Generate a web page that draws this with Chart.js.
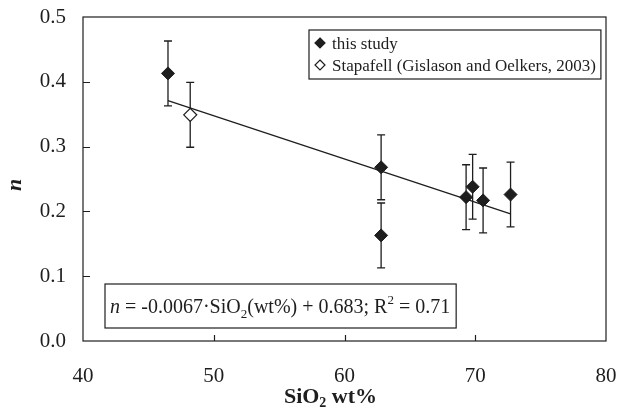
<!DOCTYPE html>
<html>
<head>
<meta charset="utf-8">
<script src="https://cdn.jsdelivr.net/npm/chart.js@4.4.1/dist/chart.umd.min.js"></script>
<style>
  body { margin: 0; background: #fff; }
  #wrap { width: 618px; height: 408px; }
</style>
</head>
<body>
<div id="wrap"><canvas id="nChart" width="618" height="408"></canvas></div>
<script>
// values
const studySiO2 = [46.5, 62.8, 62.8, 69.3, 69.8, 70.6, 72.7];
const studyN = [0.413, 0.268, 0.163, 0.222, 0.238, 0.217, 0.226];
const studyErr = [0.05, 0.05, 0.05, 0.05, 0.05, 0.05, 0.05];
const stapafellSiO2 = [48.2];
const stapafellN = [0.349];
const stapafellErr = [0.05];
const fitSiO2 = [46.5, 72.7];
const fitN = [0.371, 0.196];

const xTickValues = [40, 50, 60, 70, 80];
const yTickValues = [0.0, 0.1, 0.2, 0.3, 0.4, 0.5];
const legendLabels = ['this study', 'Stapafell (Gislason and Oelkers, 2003)'];
const xTitle = ['SiO', '2', ' wt%'];
const yTitle = 'n';
const equation = [
  { t: 'n', style: 'italic' },
  { t: ' = -0.0067\u00b7SiO' },
  { t: '2', sub: true },
  { t: '(wt%) + 0.683; R' },
  { t: '2', sup: true },
  { t: ' = 0.71' },
];

const serif = "'Liberation Serif', 'Times New Roman', serif";
const ink = '#1e1e1e';

function toPoints(xs, ys) {
  return xs.map((x, i) => ({ x: x, y: ys[i] }));
}

function diamond(ctx, x, y, r, filled) {
  ctx.beginPath();
  ctx.moveTo(x, y - r);
  ctx.lineTo(x + r, y);
  ctx.lineTo(x, y + r);
  ctx.lineTo(x - r, y);
  ctx.closePath();
  ctx.fillStyle = filled ? ink : '#fff';
  ctx.fill();
  ctx.lineWidth = 1.2;
  ctx.strokeStyle = ink;
  ctx.stroke();
}

const figurePlugin = {
  id: 'figurePlugin',
  beforeDatasetsDraw(chart) {
    // error bars, drawn under the markers
    const ctx = chart.ctx;
    const xs = chart.scales.x;
    const ys = chart.scales.y;
    ctx.save();
    ctx.strokeStyle = ink;
    ctx.lineWidth = 1.3;
    chart.data.datasets.forEach((ds) => {
      if (!ds.errors) return;
      ds.data.forEach((p, i) => {
        const px = xs.getPixelForValue(p.x);
        const top = ys.getPixelForValue(p.y + ds.errors[i]);
        const bot = ys.getPixelForValue(p.y - ds.errors[i]);
        ctx.beginPath();
        ctx.moveTo(px, top);
        ctx.lineTo(px, bot);
        ctx.moveTo(px - 4, top);
        ctx.lineTo(px + 4, top);
        ctx.moveTo(px - 4, bot);
        ctx.lineTo(px + 4, bot);
        ctx.stroke();
      });
    });
    ctx.restore();
  },
  afterDraw(chart) {
    const ctx = chart.ctx;
    const area = chart.chartArea;
    const xs = chart.scales.x;
    const ys = chart.scales.y;
    ctx.save();

    // frame and inward ticks
    ctx.strokeStyle = ink;
    ctx.lineWidth = 1.2;
    ctx.strokeRect(area.left, area.top, area.right - area.left, area.bottom - area.top);
    ctx.beginPath();
    yTickValues.slice(1, -1).forEach((v) => {
      const py = Math.round(ys.getPixelForValue(v)) + 0.5;
      ctx.moveTo(area.left, py);
      ctx.lineTo(area.left + 7, py);
    });
    xTickValues.slice(1, -1).forEach((v) => {
      const px = Math.round(xs.getPixelForValue(v)) + 0.5;
      ctx.moveTo(px, area.bottom);
      ctx.lineTo(px, area.bottom - 6);
    });
    ctx.stroke();

    // legend
    ctx.font = '17px ' + serif;
    ctx.textBaseline = 'alphabetic';
    ctx.textAlign = 'left';
    const textX = area.right - 274;
    let maxW = 0;
    legendLabels.forEach((l) => { maxW = Math.max(maxW, ctx.measureText(l).width); });
    const lgLeft = textX - 23;
    const lgTop = area.top + 13;
    const lgRight = textX + maxW + 5;
    ctx.fillStyle = '#fff';
    ctx.fillRect(lgLeft, lgTop, lgRight - lgLeft, 49);
    ctx.lineWidth = 1.2;
    ctx.strokeRect(lgLeft, lgTop, lgRight - lgLeft, 49);
    legendLabels.forEach((l, i) => {
      const cy = lgTop + 13 + i * 22;
      diamond(ctx, textX - 12, cy, 5, i === 0);
      ctx.fillStyle = ink;
      ctx.font = '17px ' + serif;
      ctx.fillText(l, textX, cy + 6);
    });

    // equation box
    const eqLeft = area.left + 22;
    const eqTop = area.bottom - 57;
    const base = eqTop + 29;
    let cx = eqLeft + 5;
    ctx.fillStyle = ink;
    equation.forEach((part) => {
      let size = 20;
      let dy = 0;
      if (part.sub) { size = 13; dy = 5; }
      if (part.sup) { size = 13; dy = -9; }
      ctx.font = (part.style || 'normal') + ' ' + size + 'px ' + serif;
      ctx.fillText(part.t, cx, base + dy);
      cx += ctx.measureText(part.t).width;
    });
    ctx.lineWidth = 1.2;
    ctx.strokeRect(eqLeft, eqTop, cx + 6 - eqLeft, 44);

    // axis titles
    ctx.fillStyle = ink;
    ctx.font = 'bold 22px ' + serif;
    const w0 = ctx.measureText(xTitle[0]).width;
    ctx.font = 'bold 14px ' + serif;
    const w1 = ctx.measureText(xTitle[1]).width;
    ctx.font = 'bold 22px ' + serif;
    const w2 = ctx.measureText(xTitle[2]).width;
    let tx = (area.left + area.right) / 2 - 14 - (w0 + w1 + w2) / 2;
    const ty = area.bottom + 62;
    ctx.fillText(xTitle[0], tx, ty);
    tx += w0;
    ctx.font = 'bold 14px ' + serif;
    ctx.fillText(xTitle[1], tx, ty + 4);
    tx += w1;
    ctx.font = 'bold 22px ' + serif;
    ctx.fillText(xTitle[2], tx, ty);

    ctx.translate(15, (area.top + area.bottom) / 2 + 6);
    ctx.rotate(-Math.PI / 2);
    ctx.textAlign = 'center';
    ctx.textBaseline = 'middle';
    ctx.font = 'italic bold 22px ' + serif;
    ctx.fillText(yTitle, 0, 0);
    ctx.restore();
  },
};

new Chart(document.getElementById('nChart'), {
  type: 'scatter',
  data: {
    datasets: [
      {
        type: 'line',
        label: 'fit',
        data: toPoints(fitSiO2, fitN),
        borderColor: ink,
        borderWidth: 1.3,
        pointRadius: 0,
        fill: false,
        order: 0,
      },
      {
        label: legendLabels[0],
        data: toPoints(studySiO2, studyN),
        errors: studyErr,
        pointStyle: 'rectRot',
        pointRadius: 6.5,
        backgroundColor: ink,
        borderColor: ink,
        borderWidth: 1,
        order: 1,
      },
      {
        label: legendLabels[1],
        data: toPoints(stapafellSiO2, stapafellN),
        errors: stapafellErr,
        pointStyle: 'rectRot',
        pointRadius: 6.5,
        backgroundColor: '#fff',
        borderColor: ink,
        borderWidth: 1.3,
        order: 2,
      },
    ],
  },
  options: {
    responsive: false,
    animation: false,
    layout: { padding: { top: 17, right: 12, left: 0, bottom: 0 } },
    plugins: {
      legend: { display: false },
      tooltip: { enabled: false },
    },
    scales: {
      x: {
        type: 'linear',
        min: 40,
        max: 80,
        afterBuildTicks: (scale) => { scale.ticks = xTickValues.map((v) => ({ value: v })); },
        afterFit: (scale) => {
          scale.height = 67;
          scale.paddingLeft = 0;
          scale.paddingRight = 0;
        },
        grid: { display: false, drawTicks: false },
        border: { display: false },
        ticks: { padding: 23, color: ink, font: { family: serif, size: 21 } },
      },
      y: {
        type: 'linear',
        min: 0,
        max: 0.5,
        afterBuildTicks: (scale) => { scale.ticks = yTickValues.map((v) => ({ value: v })); },
        afterFit: (scale) => {
          scale.width = 83;
          scale.paddingTop = 0;
          scale.paddingBottom = 0;
        },
        grid: { display: false, drawTicks: false },
        border: { display: false },
        ticks: {
          padding: 17,
          color: ink,
          font: { family: serif, size: 21 },
          callback: (v) => Number(v).toFixed(1),
        },
      },
    },
  },
  plugins: [figurePlugin],
});
</script>
</body>
</html>
